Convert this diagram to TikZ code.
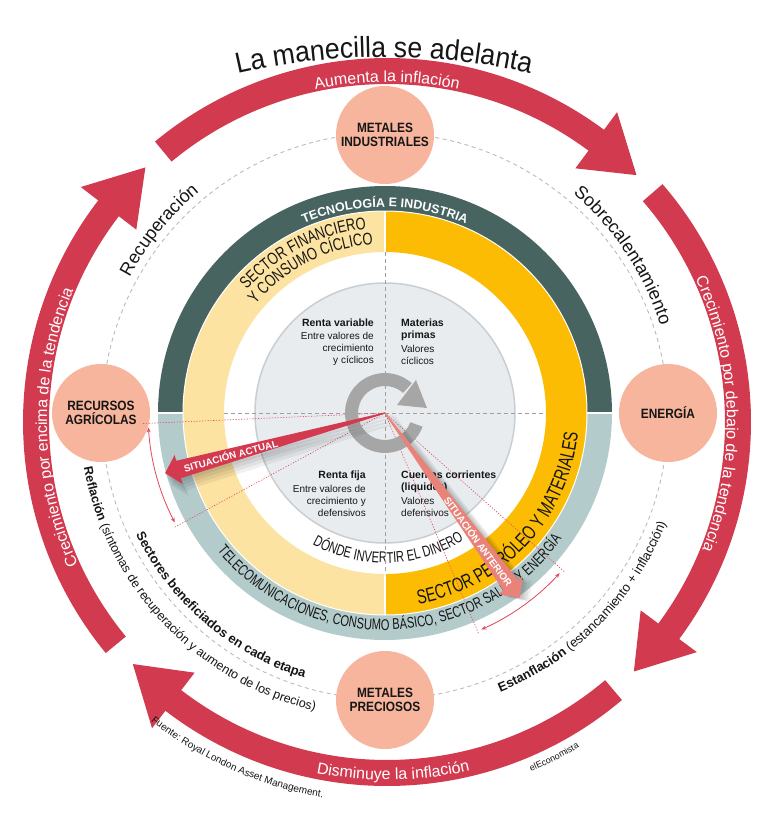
\documentclass[tikz,border=0pt]{standalone}
\usepackage{fontspec}
\setmainfont{Liberation Sans}
\newfontfamily\condT[FakeStretch=0.92]{Liberation Sans}
\newfontfamily\condA[FakeStretch=0.88]{Liberation Sans}
\newfontfamily\condB[FakeStretch=0.76]{Liberation Sans}
\newfontfamily\condC[FakeStretch=0.72]{Liberation Sans}
\usetikzlibrary{decorations.text,arrows.meta}
\definecolor{ringred}{HTML}{D23A4F}
\definecolor{actred}{HTML}{D33A4F}
\definecolor{antred}{HTML}{E98379}
\definecolor{salmon}{HTML}{F6B59C}
\definecolor{darkband}{HTML}{476461}
\definecolor{greyband}{HTML}{B4CBCB}
\definecolor{lightyel}{HTML}{FDE3A1}
\definecolor{brightyel}{HTML}{FCBC04}
\definecolor{diskfill}{HTML}{E8ECEF}
\definecolor{diskline}{HTML}{C9CED2}
\definecolor{icongrey}{HTML}{A6A6A6}
\definecolor{dashgrey}{HTML}{BBBBBB}
\definecolor{dotred}{HTML}{E0475C}
\definecolor{ink}{HTML}{161616}
\newcommand\RedArrow[3]{%
  \fill[ringred] (#1:364) arc[start angle=#1,end angle=#2,radius=364]
    -- (#2:386) -- (#3:351) -- (#2:316)
    -- (#2:338) arc[start angle=#2,end angle=#1,radius=338] -- cycle;}
\tikzset{
  salm/.style={circle,fill=salmon,minimum size=98pt,inner sep=0pt,align=center,text=ink,
    font=\condA\bfseries\fontsize{13.5}{14}\selectfont},
  qtext/.style={inner sep=0pt,text=ink,font=\fontsize{10}{12}\selectfont},
  ptext/.style={inner sep=0pt,text=white,font=\bfseries\fontsize{9.8}{10}\selectfont},
  reddot/.style={dotred,line width=0.6pt,dash pattern=on 1.2pt off 1.6pt},
  dblarr/.style={dotred,line width=0.8pt,{Stealth[length=5pt,width=4pt]}-{Stealth[length=5pt,width=4pt]}},
  ctext/.style={decorate,decoration={text along path,text align=center,text={#1}}}
}
\begin{document}
\begin{tikzpicture}[x=1pt,y=1pt]
\useasboundingbox (-385,-402) rectangle (385,413);
\fill[white] (-385,-402) rectangle (385,413);

% ---------- outer red cycle ----------
\begin{scope}[shift={(2,-9)}]
\RedArrow{129.6}{53.4}{44.7}
\RedArrow{40.8}{-36.6}{-45.3}
\RedArrow{-49.8}{-127.5}{-136.4}
\RedArrow{-140.6}{-217.5}{-226.5}
\path[ctext={|\color{white}\fontsize{16}{18}\selectfont|Aumenta la inflación}]
  (135:340) arc[start angle=135,end angle=45,radius=340];
\path[ctext={|\color{white}\fontsize{16}{18}\selectfont|Disminuye la inflación}]
  (226:358) arc[start angle=226,end angle=316,radius=358];
\path[ctext={|\color{white}\fontsize{16}{18}\selectfont|Crecimiento por encima de la tendencia}]
  (226:340) arc[start angle=226,end angle=136,radius=340];
\path[ctext={|\color{white}\fontsize{16}{18}\selectfont|Crecimiento por debajo de la tendencia}]
  (46:340) arc[start angle=46,end angle=-43,radius=340];
\path[ctext={|\color{ink}\fontsize{10}{12}\selectfont|Fuente: Royal London Asset Management.}]
  (225:381) arc[start angle=225,end angle=267,radius=381];
\path[ctext={|\color{ink}\fontsize{9}{11}\selectfont|elEconomista}]
  (284:378) arc[start angle=284,end angle=309,radius=378];
\end{scope}

% ---------- title ----------
\path[ctext={|\color{ink}\condT\fontsize{29}{32}\selectfont|La manecilla se adelanta}]
  ([shift={(-1,-300)}]106:656) arc[start angle=106,end angle=74,radius=656];

% ---------- orbit ----------
\draw[dashgrey,line width=0.9pt,dash pattern=on 4pt off 3.5pt] (0,-3) circle[radius=283];

\node[salm] (mi) at (0,278) {METALES\\INDUSTRIALES};
\node[salm] (en) at (283,0) {ENERGÍA};
\node[salm] (ra) at (-284,0) {RECURSOS\\AGRÍCOLAS};
\node[salm] (mp) at (0,-287) {METALES\\PRECIOSOS};

% phase labels
\path[ctext={|\color{ink}\fontsize{18}{20}\selectfont|Recuperación}]
  (161:289) arc[start angle=161,end angle=121,radius=289];
\path[ctext={|\color{ink}\fontsize{18}{20}\selectfont|Sobrecalentamiento}]
  (58:289) arc[start angle=58,end angle=9,radius=289];
\path[ctext={|\color{ink}\bfseries\fontsize{13}{15}\selectfont|Sectores beneficiados en cada etapa}]
  (194:277) arc[start angle=194,end angle=265,radius=277];
\path[ctext={|\color{ink}\bfseries\fontsize{12.5}{14}\selectfont|Reflación |\color{ink}\mdseries\fontsize{12.5}{14}\selectfont|(síntomas de recuperación y aumento de los precios)}]
  (183:306) arc[start angle=183,end angle=264,radius=306];
\path[ctext={|\color{ink}\bfseries\fontsize{13}{15}\selectfont|Estanflación |\color{ink}\mdseries\fontsize{13}{15}\selectfont|(estancamiento + inflacción)}]
  (280:302) arc[start angle=280,end angle=351,radius=302];

% ---------- rings ----------
\fill[darkband] (0:227) arc[start angle=0,end angle=180,radius=227] -- (180:202) arc[start angle=180,end angle=0,radius=202] -- cycle;
\fill[greyband] (180:227) arc[start angle=180,end angle=360,radius=227] -- (0:202) arc[start angle=360,end angle=180,radius=202] -- cycle;
\fill[lightyel] (90:202) arc[start angle=90,end angle=270,radius=202] -- (270:161) arc[start angle=270,end angle=90,radius=161] -- cycle;
\fill[brightyel] (-90:202) arc[start angle=-90,end angle=90,radius=202] -- (90:161) arc[start angle=90,end angle=-90,radius=161] -- cycle;
\draw[white,line width=1.2pt] (0,161) -- (0,202) (0,-161) -- (0,-202) (-228,0) -- (-202,0) (202,0) -- (228,0);
\draw[white,line width=1pt] (0,0) circle[radius=202];
\draw[diskline,fill=diskfill,line width=1.5pt] (0,0) circle[radius=130];

% ring texts
\path[ctext={|\color{white}\bfseries\fontsize{12.5}{14}\selectfont|TECNOLOGÍA E INDUSTRIA}]
  (140:206) arc[start angle=140,end angle=40,radius=206];
\path[ctext={|\color{ink}\condB\fontsize{17}{19}\selectfont|SECTOR FINANCIERO}]
  (165:185) arc[start angle=165,end angle=69,radius=185];
\path[ctext={|\color{ink}\condB\fontsize{17}{19}\selectfont|Y CONSUMO CÍCLICO}]
  (165:169) arc[start angle=165,end angle=69,radius=169];
\path[ctext={|\color{ink}\condC\fontsize{20}{22}\selectfont|SECTOR PETRÓLEO Y MATERIALES}]
  (-100:194) arc[start angle=-100,end angle=14,radius=194];
\path[ctext={|\color{ink}\condC\fontsize{15.5}{17}\selectfont|TELECOMUNICACIONES, CONSUMO BÁSICO, SECTOR SALUD Y ENERGÍA}]
  (198:217) arc[start angle=198,end angle=346,radius=217];
\path[ctext={|\color{ink}\condC\fontsize{15.5}{17}\selectfont|DÓNDE INVERTIR EL DINERO}]
  (215:150) arc[start angle=215,end angle=327.8,radius=150];

% cross lines
\draw[dashgrey!85!black,line width=0.9pt,dash pattern=on 4pt off 3pt] (-161,0) -- (161,0) (0,161) -- (0,-161);

% red dotted guides and ranges
\draw[reddot] (0,0) -- (182.5:242);
\draw[reddot] (0,0) -- (208.5:240);
\draw[reddot] (0,0) -- (-67:240);
\draw[reddot] (0,0) -- (-41.5:240);
\draw[dblarr] (183.5:237) arc[start angle=183.5,end angle=207.5,radius=237];
\draw[dblarr] (-66:237) arc[start angle=-66,end angle=-42.5,radius=237];

% quadrant texts
\node[qtext,anchor=north east,align=right] (rv) at (-11,94)
  {\textbf{\fontsize{10.5}{12}\selectfont Renta variable}\\[1pt]Entre valores de\\crecimiento\\y cíclicos};
\node[qtext,anchor=north west,align=left] (mpr) at (16,94)
  {\textbf{\fontsize{10.5}{12}\selectfont Materias}\\\textbf{\fontsize{10.5}{12}\selectfont primas}\\[1.5pt]Valores\\cíclicos};
\node[qtext,anchor=north east,align=right] (rf) at (-19,-57.5)
  {\textbf{\fontsize{10.5}{12}\selectfont Renta fija}\\[2pt]Entre valores de\\crecimiento y\\defensivos};
\node[qtext,anchor=north west,align=left] (cc) at (16,-57.5)
  {\textbf{\fontsize{10.5}{12}\selectfont Cuentas corrientes}\\\textbf{\fontsize{10.5}{12}\selectfont (liquidez)}\\[2pt]Valores\\defensivos};

% rotate icon
\fill[icongrey] (48:40) arc[start angle=48,end angle=340,radius=40] -- (340:27) arc[start angle=340,end angle=48,radius=27] -- cycle;
\fill[icongrey] (31,33) -- (42,5) -- (12,8) -- cycle;

% pointer shadows
\foreach \dx/\dy in {1.5/-3,3/-6,4.5/-9,6/-12}{
  \begin{scope}[shift={(\dx,\dy)},rotate=195.3]
    \fill[black,opacity=0.06] (0,0.6) -- (214,9) -- (214,15) -- (228,0) -- (214,-15) -- (214,-9) -- (0,-0.6) -- cycle;
  \end{scope}
  \begin{scope}[shift={(-\dy*0.8,\dx*-0.6)},rotate=-53.9]
    \fill[black,opacity=0.06] (0,0.6) -- (213,9) -- (213,15) -- (229,0) -- (213,-15) -- (213,-9) -- (0,-0.6) -- cycle;
  \end{scope}
}
% pointers
\begin{scope}[rotate=195.3]
  \fill[actred] (0,0.6) -- (214,9) -- (214,15) -- (228,0) -- (214,-15) -- (214,-9) -- (0,-0.6) -- cycle;
\end{scope}
\begin{scope}[rotate=-53.9]
  \fill[antred] (0,0.6) -- (213,9) -- (213,15) -- (229,0) -- (213,-15) -- (213,-9) -- (0,-0.6) -- cycle;
\end{scope}
\node[ptext,rotate=15.3] (sa) at (195.3:160) {SITUACIÓN ACTUAL};
\node[ptext,rotate=-53.9] (san) at (-53.9:159) {SITUACIÓN ANTERIOR};
\end{tikzpicture}
\end{document}
